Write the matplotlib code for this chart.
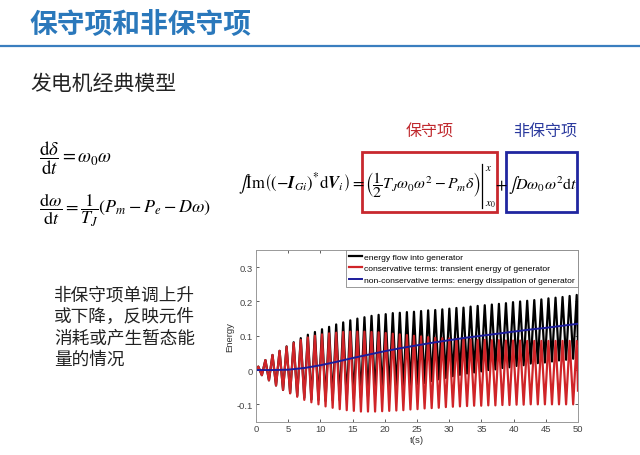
import matplotlib
matplotlib.use("Agg")
import matplotlib.pyplot as plt
from matplotlib.patches import Rectangle

plt.rcParams['font.family'] = ['Noto Sans CJK SC', 'DejaVu Sans']
plt.rcParams['mathtext.fontset'] = 'stix'

# times of the swing peaks and troughs (s)
t_peak = [0.36, 1.46, 2.56, 3.66, 4.75, 5.85, 6.95, 8.05, 9.15, 10.25,
          11.35, 12.45, 13.54, 14.64, 15.74, 16.84, 17.94, 19.04, 20.14, 21.24,
          22.33, 23.43, 24.53, 25.63, 26.73, 27.83, 28.93, 30.02, 31.12, 32.22,
          33.32, 34.42, 35.52, 36.62, 37.72, 38.81, 39.91, 41.01, 42.11, 43.21,
          44.31, 45.41, 46.51, 47.60, 48.70, 49.80]
t_trough = [0.91, 2.01, 3.11, 4.20, 5.30, 6.40, 7.50, 8.60, 9.70, 10.80,
            11.90, 13.00, 14.09, 15.19, 16.29, 17.39, 18.49, 19.59, 20.69, 21.79,
            22.88, 23.98, 25.08, 26.18, 27.28, 28.38, 29.48, 30.57, 31.67, 32.77,
            33.87, 34.97, 36.07, 37.17, 38.26, 39.36, 40.46, 41.56, 42.66, 43.76,
            44.86, 45.96, 47.05, 48.15, 49.25]

# conservative terms (red)
red_peak = [0.010, 0.029, 0.044, 0.056, 0.068, 0.079, 0.088, 0.095, 0.100, 0.104,
            0.107, 0.109, 0.111, 0.112, 0.112, 0.112, 0.111, 0.110, 0.108, 0.106,
            0.104, 0.102, 0.100, 0.098, 0.096, 0.094, 0.093, 0.092, 0.091, 0.090,
            0.089, 0.088, 0.088, 0.087, 0.087, 0.086, 0.086, 0.086, 0.085, 0.085,
            0.085, 0.085, 0.085, 0.085, 0.085, 0.085]
red_trough = [-0.015, -0.030, -0.045, -0.058, -0.068, -0.078, -0.087, -0.094, -0.100, -0.106,
              -0.110, -0.114, -0.117, -0.119, -0.121, -0.121, -0.121, -0.120, -0.119, -0.118,
              -0.117, -0.115, -0.114, -0.112, -0.111, -0.110, -0.108, -0.107, -0.106, -0.105,
              -0.104, -0.104, -0.103, -0.103, -0.102, -0.102, -0.101, -0.101, -0.100, -0.100,
              -0.100, -0.100, -0.100, -0.100, -0.100]
red_end = -0.060

# energy flow into generator (black)
black_peak = [0.010, 0.029, 0.044, 0.056, 0.069, 0.081, 0.093, 0.103, 0.111, 0.119,
              0.126, 0.133, 0.139, 0.145, 0.150, 0.154, 0.158, 0.161, 0.163, 0.166,
              0.167, 0.169, 0.170, 0.172, 0.174, 0.175, 0.177, 0.179, 0.181, 0.182,
              0.185, 0.187, 0.189, 0.191, 0.193, 0.195, 0.198, 0.200, 0.202, 0.204,
              0.206, 0.209, 0.211, 0.213, 0.216, 0.219]
black_trough = [-0.015, -0.030, -0.045, -0.058, -0.067, -0.075, -0.081, -0.086, -0.087, -0.090,
                -0.088, -0.088, -0.086, -0.083, -0.081, -0.077, -0.073, -0.067, -0.062, -0.058,
                -0.054, -0.046, -0.042, -0.038, -0.032, -0.027, -0.023, -0.018, -0.014, -0.010,
                -0.007, -0.004, 0.000, 0.002, 0.006, 0.008, 0.012, 0.014, 0.019, 0.020,
                0.022, 0.025, 0.028, 0.030, 0.033]
black_end = 0.075

# non-conservative terms (blue)
t_blue = [0, 2.5, 5, 7.5, 10, 12.5, 15, 17.5, 20, 22.5, 25, 27.5, 30,
          32.5, 35, 37.5, 40, 42.5, 45, 47.5, 50]
blue = [0.0, 0.0, 0.001, 0.006, 0.014, 0.024, 0.035, 0.045, 0.055, 0.064, 0.072,
        0.080, 0.087, 0.094, 0.100, 0.106, 0.112, 0.118, 0.123, 0.129, 0.135]

x_ticks = [0, 5, 10, 15, 20, 25, 30, 35, 40, 45, 50]
y_ticks = [-0.1, 0, 0.1, 0.2, 0.3]
y_tick_labels = ['-0.1', '0', '0.1', '0.2', '0.3']
legend_labels = ['energy flow into generator',
                 'conservative terms: transient energy of generator',
                 'non-conservative terms: energy dissipation of generator']


def swing(peaks, troughs, end):
    t = [0.0]
    v = [0.0]
    for i in range(len(t_peak)):
        t.append(t_peak[i])
        v.append(peaks[i])
        if i < len(t_trough):
            t.append(t_trough[i])
            v.append(troughs[i])
    t.append(50.0)
    v.append(end)
    return t, v


fig = plt.figure(figsize=(6.4, 4.56), dpi=100)

# slide layer in pixel coordinates
bg = fig.add_axes([0, 0, 1, 1])
bg.set_xlim(0, 640)
bg.set_ylim(456, 0)
bg.axis('off')

bg.text(30, 24, '保守项和非保守项', fontsize=20, fontweight='bold',
        color='#2a78bb', va='center', ha='left')
bg.plot([0, 640], [47, 47], color='#3a7ebf', lw=1.6)
bg.text(30, 84, '发电机经典模型', fontsize=15, color='#222222', va='center', ha='left')

# model equations
bg.text(39, 158, r'$\dfrac{\mathrm{d}\delta}{\mathrm{d}t}=\omega_0\omega$',
        fontsize=13.5, va='center', ha='left')
bg.text(39, 210, r'$\dfrac{\mathrm{d}\omega}{\mathrm{d}t}=\dfrac{1}{T_J}(P_m-P_e-D\omega)$',
        fontsize=13, va='center', ha='left')

# energy equation
bg.text(238, 184, r'$\int\mathrm{Im}\left(\left(-\boldsymbol{I}_{Gi}\right)^{*}\mathrm{d}\boldsymbol{V}_i\right)=$',
        fontsize=12, va='center', ha='left')
bg.text(365, 185, r'$\left(\dfrac{1}{2}T_J\omega_0\omega^2-P_m\delta\right)$',
        fontsize=11.3, va='center', ha='left')
bg.plot([482, 482], [165, 209], color='black', lw=0.9)
bg.text(485, 168, r'$x$', fontsize=8, va='center', ha='left')
bg.text(485, 205, r'$x_0$', fontsize=8, va='center', ha='left')
bg.text(501, 186, r'$+$', fontsize=12, va='center', ha='center')
bg.text(508, 185, r'$\int D\omega_0\omega^2\mathrm{d}t$', fontsize=11.5, va='center', ha='left')

bg.add_patch(Rectangle((362, 153), 135, 60, fill=False, edgecolor='#c8282e', lw=2))
bg.add_patch(Rectangle((506, 153), 71, 60, fill=False, edgecolor='#2026a0', lw=2))
bg.text(430, 131, '保守项', fontsize=11.5, color='#c0282d', va='center', ha='center')
bg.text(545, 131, '非保守项', fontsize=11.5, color='#2b3a9e', va='center', ha='center')

note = ['非保守项单调上升', '或下降，反映元件', '消耗或产生暂态能', '量的情况']
for i, line in enumerate(note):
    bg.text(54, 296 + i * 21.3, line, fontsize=12.7, color='#222222', va='center', ha='left')

# simulation chart
ax = fig.add_axes([256 / 640, (456 - 422.5) / 456, 322 / 640, 171.5 / 456])
tb, vb = swing(black_peak, black_trough, black_end)
tr, vr = swing(red_peak, red_trough, red_end)
ax.plot(tb, vb, color='black', lw=1.6, label=legend_labels[0])
ax.plot(tr, vr, color='#d02428', lw=1.6, label=legend_labels[1])
ax.plot(t_blue, blue, color='#1c1c9c', lw=1.4, label=legend_labels[2])
ax.set_xlim(0, 50)
ax.set_ylim(-0.15, 0.35)
ax.set_xticks(x_ticks)
ax.set_xticklabels([str(v) for v in x_ticks], family='Liberation Sans')
ax.set_yticks(y_ticks)
ax.set_yticklabels(y_tick_labels, family='Liberation Sans')
ax.tick_params(direction='in', length=2.5, width=0.6, top=True, right=True,
               labelsize=6.8, colors='#444444', pad=2)
for s in ax.spines.values():
    s.set_color('#999999')
    s.set_linewidth(0.7)
ax.set_xlabel('t(s)', fontsize=6.8, family='Liberation Sans', color='#333333', labelpad=1)
ax.set_ylabel('Energy', fontsize=6.8, family='Liberation Sans', color='#333333', labelpad=2)
leg = ax.legend(loc='upper right', prop={'family': 'Liberation Sans', 'size': 6.1},
                frameon=True, fancybox=False, edgecolor='#888888', framealpha=1,
                borderaxespad=0, handlelength=1.5, handletextpad=0.3,
                labelspacing=0.4, borderpad=0.35)
leg.get_frame().set_linewidth(0.6)

fig.savefig('out.png', dpi=100)
